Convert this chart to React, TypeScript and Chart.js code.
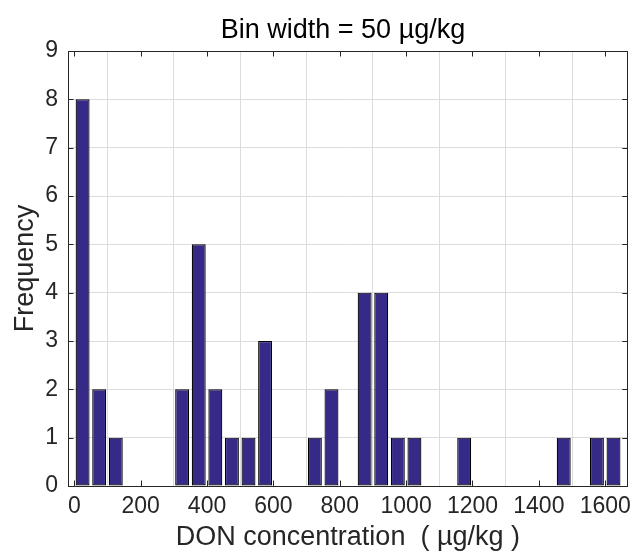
import React, { useEffect, useRef } from "react";
import { Chart, registerables } from "chart.js";

Chart.register(...registerables);

const titleText = "Bin width = 50 µg/kg";
const xTitle = "DON concentration  ( µg/kg )";
const yTitle = "Frequency";
const binWidth = 50;
const binStarts = [
  0, 50, 100, 150, 200, 250, 300, 350, 400, 450, 500, 550, 600, 650, 700, 750,
  800, 850, 900, 950, 1000, 1050, 1100, 1150, 1200, 1250, 1300, 1350, 1400,
  1450, 1500, 1550, 1600,
];
const counts = [
  8, 2, 1, 0, 0, 0, 2, 5, 2, 1, 1, 3, 0, 0, 1, 2, 0, 4, 4, 1, 1, 0, 0, 1, 0, 0,
  0, 0, 0, 1, 0, 1, 1,
];
const xTicks = [0, 200, 400, 600, 800, 1000, 1200, 1400, 1600];
const yTicks = [0, 1, 2, 3, 4, 5, 6, 7, 8, 9];
const xLimits = [-19, 1668];
const yLimits = [0, 9];

const FONT = "'Liberation Sans', Arial, Helvetica, sans-serif";
const AXIS_COLOR = "#262626";

export default function App() {
  const ref = useRef<HTMLCanvasElement | null>(null);

  useEffect(() => {
    document.body.style.margin = "0";
    const canvas = ref.current;
    if (!canvas) return;

    const decorPlugin = {
      id: "matlabDecor",
      afterDatasetsDraw(chart: any) {
        const { ctx, chartArea } = chart;
        const { left, right, top, bottom } = chartArea;
        const xs = chart.scales.x;
        const ys = chart.scales.y;
        const tl = 5.5;
        ctx.save();
        ctx.strokeStyle = AXIS_COLOR;
        ctx.lineWidth = 1;
        ctx.beginPath();
        xTicks.forEach((v) => {
          const px = Math.round(xs.getPixelForValue(v)) + 0.5;
          ctx.moveTo(px, bottom);
          ctx.lineTo(px, bottom - tl);
          ctx.moveTo(px, top);
          ctx.lineTo(px, top + tl);
        });
        yTicks.forEach((v) => {
          const py = Math.round(ys.getPixelForValue(v)) + 0.5;
          ctx.moveTo(left, py);
          ctx.lineTo(left + tl, py);
          ctx.moveTo(right, py);
          ctx.lineTo(right - tl, py);
        });
        ctx.stroke();
        ctx.strokeRect(
          Math.round(left) + 0.5,
          Math.round(top) + 0.5,
          Math.round(right - left) - 1,
          Math.round(bottom - top)
        );
        ctx.fillStyle = "#000";
        ctx.font = `27px ${FONT}`;
        ctx.textAlign = "center";
        ctx.textBaseline = "alphabetic";
        ctx.fillText(titleText, 343, 38);
        ctx.restore();
      },
    };

    const chart = new Chart(canvas, {
      type: "bar",
      data: {
        datasets: [
          {
            data: binStarts.map((s, i) => ({ x: s + binWidth / 2, y: counts[i] })),
            backgroundColor: "#352a87",
            borderColor: "#000000",
            borderWidth: 1.2,
            borderSkipped: false,
            inflateAmount: 0,
            categoryPercentage: 1,
            barPercentage: 0.84,
          } as any,
        ],
      },
      options: {
        responsive: false,
        animation: false,
        layout: { padding: { left: 0, right: 5, top: 51, bottom: 0 } },
        plugins: {
          legend: { display: false },
          title: { display: false },
          tooltip: { enabled: false },
        },
        scales: {
          x: {
            type: "linear",
            min: xLimits[0],
            max: xLimits[1],
            offset: false,
            afterBuildTicks: (s: any) => {
              s.ticks = xTicks.map((v) => ({ value: v }));
            },
            afterFit: (s: any) => {
              s.height = 71;
            },
            grid: {
              color: "#dcdcdc",
              drawTicks: false,
              lineWidth: 1,
            },
            border: { display: false },
            ticks: {
              padding: 7,
              color: AXIS_COLOR,
              font: { family: FONT, size: 23 },
              maxRotation: 0,
              autoSkip: false,
              callback: (v: any) => String(v),
            },
            title: {
              display: true,
              text: xTitle,
              color: AXIS_COLOR,
              font: { family: FONT, size: 27, lineHeight: 1.2 },
              padding: { top: 0, bottom: 3 },
            },
          },
          y: {
            min: yLimits[0],
            max: yLimits[1],
            afterBuildTicks: (s: any) => {
              s.ticks = yTicks.map((v) => ({ value: v }));
            },
            afterFit: (s: any) => {
              s.width = 68;
            },
            grid: {
              color: "#dcdcdc",
              drawTicks: false,
              lineWidth: 1,
            },
            border: { display: false },
            ticks: {
              padding: 10,
              color: AXIS_COLOR,
              font: { family: FONT, size: 23 },
              autoSkip: false,
              callback: (v: any) => String(v),
            },
            title: {
              display: true,
              text: yTitle,
              color: AXIS_COLOR,
              font: { family: FONT, size: 27, lineHeight: 1.2 },
              padding: { top: 9, bottom: 0 },
            },
          },
        },
      } as any,
      plugins: [decorPlugin],
    });

    return () => chart.destroy();
  }, []);

  return (
    <div style={{ width: 638, height: 557, background: "#fff" }}>
      <canvas ref={ref} width={638} height={557} style={{ display: "block" }} />
    </div>
  );
}
